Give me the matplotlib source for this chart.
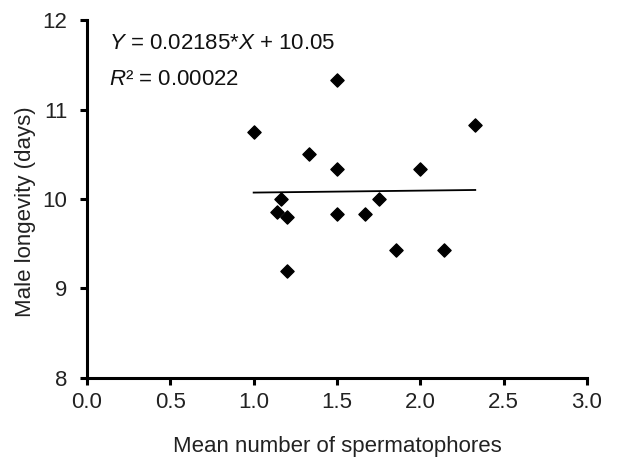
import matplotlib
matplotlib.use("Agg")
import matplotlib.pyplot as plt
import numpy as np

plt.rcParams['font.family'] = ['Liberation Sans', 'DejaVu Sans']
plt.rcParams['mathtext.fontset'] = 'custom'
plt.rcParams['mathtext.rm'] = 'Liberation Sans'
plt.rcParams['mathtext.it'] = 'Liberation Sans:italic'

# mean number of spermatophores vs male longevity
spermatophores = [1.0, 1.5, 2.33, 1.33, 1.5, 2.0, 1.167, 1.14, 1.2, 1.5, 1.667, 1.75, 1.857, 2.14, 1.2]
longevity = [10.75, 11.33, 10.83, 10.5, 10.33, 10.33, 10.0, 9.85, 9.8, 9.83, 9.83, 10.0, 9.43, 9.43, 9.2]

slope = 0.02185
intercept = 10.05
fit_x = [min(spermatophores), max(spermatophores)]

fig = plt.figure(figsize=(6.4, 4.58), dpi=100)
ax = fig.add_axes([0.136, 0.175, 0.781, 0.781])

ax.scatter(spermatophores, longevity, marker='D', s=45, color='black', zorder=3)
ax.plot(fit_x, [slope * x + intercept for x in fit_x], color='black', lw=1.3)

ax.set_xlim(0, 3)
ax.set_ylim(8, 12)
ax.set_xticks(np.arange(0, 3.01, 0.5))
ax.set_xticklabels([f"{v:.1f}" for v in np.arange(0, 3.01, 0.5)])
ax.set_yticks([8, 9, 10, 11, 12])

for s in ['top', 'right']:
    ax.spines[s].set_visible(False)
for s in ['left', 'bottom']:
    ax.spines[s].set_linewidth(2.2)
ax.tick_params(width=2.2, length=5, labelsize=16, colors='black', labelcolor='#222222')
ax.tick_params(axis='y', pad=9)
ax.tick_params(axis='x', pad=5)

ax.set_xlabel("Mean number of spermatophores", fontsize=16, labelpad=17, color='#222222')
ax.set_ylabel("Male longevity (days)", fontsize=16, color='#222222')
ax.yaxis.set_label_coords(-0.103, 0.465)

ax.text(0.043, 0.935, r"$\it{Y}$ = 0.02185*$\it{X}$ + 10.05", transform=ax.transAxes,
        fontsize=16, va='center', color='#111111')
ax.text(0.043, 0.835, r"$\it{R}$² = 0.00022", transform=ax.transAxes,
        fontsize=16, va='center', color='#111111')

fig.savefig("out.png", dpi=100)
